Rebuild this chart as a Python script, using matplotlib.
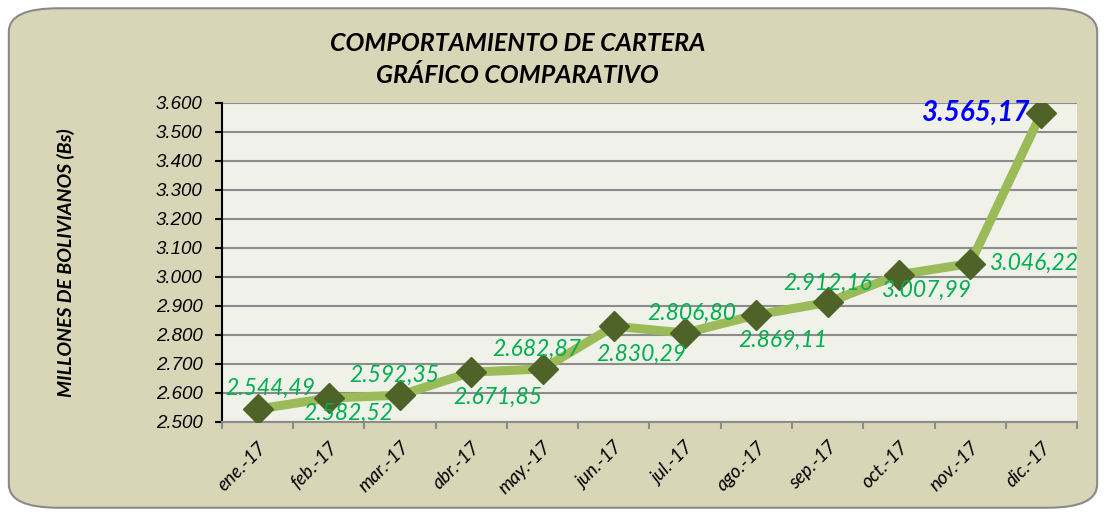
import matplotlib
matplotlib.use("Agg")
import matplotlib.pyplot as plt
from matplotlib.patches import FancyBboxPatch

meses = ["ene.-17", "feb.-17", "mar.-17", "abr.-17", "may.-17", "jun.-17",
         "jul.-17", "ago.-17", "sep.-17", "oct.-17", "nov.-17", "dic.-17"]
cartera = [2544.49, 2582.52, 2592.35, 2671.85, 2682.87, 2830.29,
           2806.80, 2869.11, 2912.16, 3007.99, 3046.22, 3565.17]
yticks = [2500, 2600, 2700, 2800, 2900, 3000, 3100, 3200, 3300, 3400, 3500, 3600]

# label offsets (points) as placed in the original
offsets = [(9, 15), (14, -11), (-4, 14), (19, -18), (-4, 14), (20, -20),
           (5, 14), (19, -18), (0, 14), (20, -11), (14, 0), (-8, 0)]


def fmt(v, dec=2):
    s = f"{v:,.{dec}f}"
    return s.replace(",", "X").replace(".", ",").replace("X", ".")


fig = plt.figure(figsize=(11.06, 5.16), dpi=100)
fig.patch.set_facecolor("white")

bg = FancyBboxPatch((0.008, 0.016), 0.984, 0.968,
                    boxstyle="round,pad=0,rounding_size=0.045",
                    transform=fig.transFigure, facecolor="#d9d5b7",
                    edgecolor="#8a8a8a", linewidth=1.5, zorder=-10)
fig.patches.append(bg)

ax = fig.add_axes([0.2007, 0.1822, 0.7731, 0.6182])
ax.set_facecolor("#f0f2ea")

x = list(range(len(meses)))
ax.plot(x, cartera, color="#9bbb59", linewidth=6.5, zorder=3,
        solid_joinstyle="miter")
ax.plot(x, cartera, linestyle="none", marker="D", markersize=15,
        color="#4f6228", zorder=4)

for i, v in enumerate(cartera):
    dx, dy = offsets[i]
    if i == len(cartera) - 1:
        ax.annotate(fmt(v), (i, v), xytext=(dx, dy), textcoords="offset points",
                    ha="right", va="center", color="#0000ff", fontsize=20,
                    fontweight="bold", fontstyle="italic", family="Lato", zorder=5)
    elif i == len(cartera) - 2:
        ax.annotate(fmt(v), (i, v), xytext=(dx, dy), textcoords="offset points",
                    ha="left", va="center", color="#00b050", fontsize=16.5,
                    fontstyle="italic", family="Lato", zorder=5)
    else:
        ax.annotate(fmt(v), (i, v), xytext=(dx, dy), textcoords="offset points",
                    ha="center", va="center", color="#00b050", fontsize=16.5,
                    fontstyle="italic", family="Lato", zorder=5)

ax.set_xlim(-0.5, len(meses) - 0.5)
ax.set_ylim(2500, 3600)
ax.set_yticks(yticks)
ax.set_yticklabels([fmt(t, 0) for t in yticks], fontsize=13.5,
                   fontstyle="italic", family="Liberation Sans")
ax.yaxis.grid(True, color="#8c8c8c", linewidth=1.5)
ax.set_axisbelow(True)

ax.set_xticks(x)
ax.set_xticklabels(meses, rotation=45, ha="right", rotation_mode="anchor",
                   fontsize=13.5, fontstyle="italic", family="Lato")
ax.set_xticks([i - 0.5 for i in range(len(meses) + 1)], minor=True)
ax.tick_params(axis="x", which="major", length=0, pad=12)
ax.tick_params(axis="x", which="minor", length=5, color="#8c8c8c", width=1.5)
ax.tick_params(axis="y", length=5, color="black", width=1.5, pad=9)

for s in ["top", "right"]:
    ax.spines[s].set_visible(False)
ax.spines["left"].set_color("black")
ax.spines["left"].set_linewidth(1.5)
ax.spines["bottom"].set_color("#8c8c8c")
ax.spines["bottom"].set_linewidth(1.5)

ax.set_ylabel("MILLONES DE BOLIVIANOS (Bs)", fontsize=14, fontweight="bold",
              fontstyle="italic", family="Lato")
ax.yaxis.set_label_coords(-0.172, 0.5)

fig.text(0.468, 0.915, "COMPORTAMIENTO DE CARTERA", ha="center", va="center",
         fontsize=18, fontweight="bold", fontstyle="italic", family="Lato")
fig.text(0.468, 0.853, "GRÁFICO COMPARATIVO", ha="center", va="center",
         fontsize=18, fontweight="bold", fontstyle="italic", family="Lato")

fig.savefig("out.png", dpi=100)
